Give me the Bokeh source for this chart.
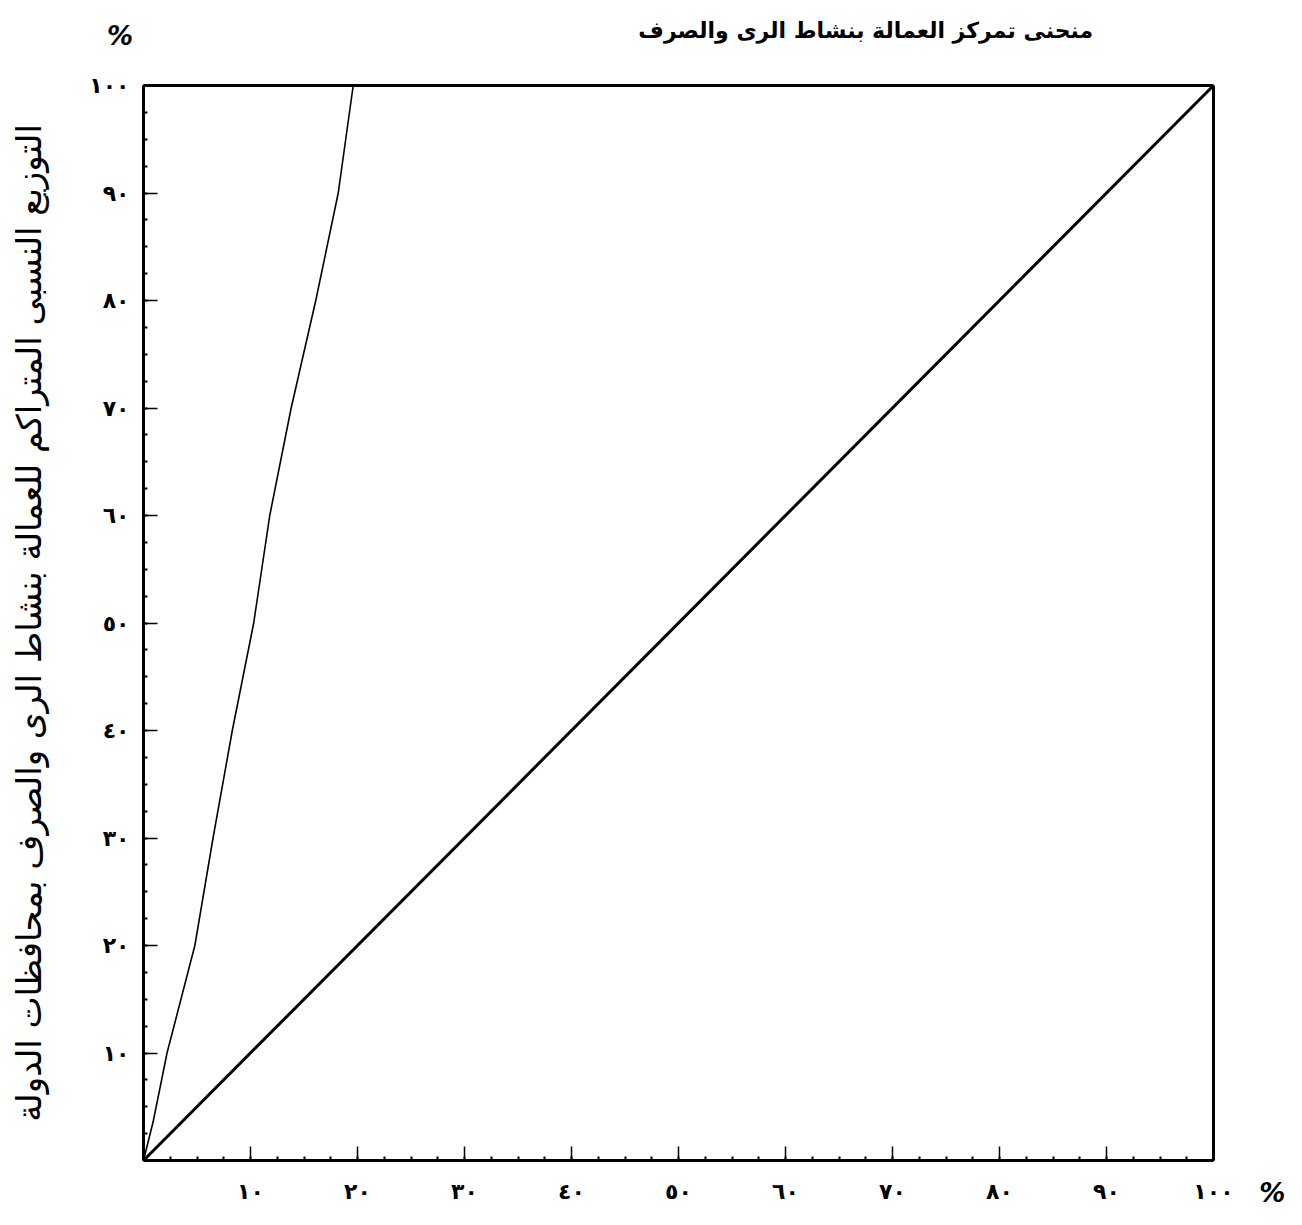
from bokeh.plotting import figure
from bokeh.models import Range1d, FixedTicker, Label, LinearAxis
from bokeh.embed import file_html
from bokeh.resources import INLINE

# ---- data -------------------------------------------------------------
title_text = "منحنى تمركز العمالة بنشاط الرى والصرف"
y_title = "التوزيع النسبى المتراكم للعمالة بنشاط الرى والصرف بمحافظات الدولة"
percent_sign = "%"

tick_values = [10, 20, 30, 40, 50, 60, 70, 80, 90, 100]
tick_labels = ["١٠", "٢٠", "٣٠", "٤٠", "٥٠", "٦٠", "٧٠", "٨٠", "٩٠", "١٠٠"]

# concentration (Lorenz) curve: cumulative % of governorates vs cumulative % of workers
curve_x = [0, 0.9, 2.2, 4.8, 6.5, 8.3, 10.3, 11.8, 13.8, 16.1, 18.2, 19.6]
curve_y = [0, 3.6, 10, 20, 30, 40, 50, 60, 70, 80, 90, 100]

# line of equal distribution
equal_x = [0, 100]
equal_y = [0, 100]

# ---- figure -----------------------------------------------------------
FONT = "DejaVu Sans"
W, H = 1296, 1215
X0, X100 = 143.0, 1213.0   # pixel of x=0 / x=100
Y0, Y100 = 1160.0, 85.0    # pixel of y=0 / y=100
sx = (X100 - X0) / 100.0
sy = (Y0 - Y100) / 100.0

p = figure(width=W, height=H,
           x_range=Range1d(-X0 / sx, (W - X0) / sx),
           y_range=Range1d(-(H - Y0) / sy, 100 + Y100 / sy),
           output_backend="svg", toolbar_location=None, title_location=None,
           min_border=0, min_border_left=0, min_border_right=0,
           min_border_top=0, min_border_bottom=0,
           background_fill_color="white", border_fill_color="white")
p.outline_line_color = None
p.grid.visible = False

labels_map = {v: t for v, t in zip(tick_values, tick_labels)}
labels_map[0] = ""

for ax in (p.xaxis[0], p.yaxis[0]):
    ax.fixed_location = 0
    ax.bounds = (0, 100)
    ax.ticker = FixedTicker(ticks=[0] + tick_values,
                            minor_ticks=[i * 2.5 for i in range(41)])
    ax.major_label_overrides = labels_map
    ax.axis_line_color = "black"
    ax.axis_line_width = 3
    ax.major_tick_in = 14
    ax.major_tick_out = 0
    ax.major_tick_line_width = 1.5
    ax.minor_tick_in = 4
    ax.minor_tick_out = 0
    ax.minor_tick_line_width = 2
    ax.major_label_text_font = FONT
    ax.major_label_text_font_size = "22px"
    ax.major_label_text_font_style = "bold"
    ax.major_label_text_color = "black"

p.xaxis.major_label_standoff = 18
p.yaxis.major_label_standoff = 14
p.yaxis.major_label_orientation = "horizontal"

p.yaxis.axis_label = y_title
p.yaxis.axis_label_text_font = FONT
p.yaxis.axis_label_text_font_size = "34px"
p.yaxis.axis_label_text_font_style = "normal"
p.yaxis.axis_label_text_color = "black"
p.yaxis.axis_label_standoff = 37

# closing frame: top and right edges of the 0-100 box
for side in ("above", "right"):
    edge = LinearAxis(fixed_location=100, bounds=(0, 100),
                      ticker=FixedTicker(ticks=[]),
                      axis_line_color="black", axis_line_width=3,
                      major_tick_line_color=None, minor_tick_line_color=None,
                      major_label_text_font_size="0px")
    p.add_layout(edge, side)

# ---- marks ------------------------------------------------------------
p.line(equal_x, equal_y, line_color="black", line_width=3)
p.line(curve_x, curve_y, line_color="black", line_width=1.6)

p.add_layout(Label(x=67.5, y=105.1, text=title_text, text_font=FONT,
                   text_font_size="22px", text_font_style="bold",
                   text_color="black",
                   text_align="center", text_baseline="middle"))
p.add_layout(Label(x=-2.2, y=104.6, text=percent_sign, text_font=FONT,
                   text_font_size="26px", text_font_style="bold italic",
                   text_color="black",
                   text_align="center", text_baseline="middle"))
p.add_layout(Label(x=105.5, y=-3.0, text=percent_sign, text_font=FONT,
                   text_font_size="26px", text_font_style="bold italic",
                   text_color="black",
                   text_align="center", text_baseline="middle"))

open("out.html", "w").write(file_html(p, INLINE))
